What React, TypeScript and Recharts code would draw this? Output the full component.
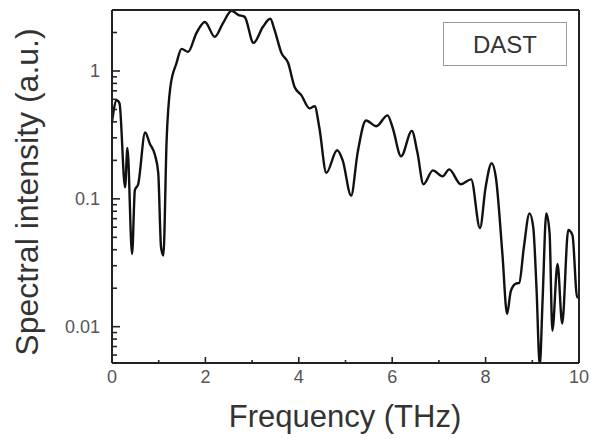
import React from 'react';
import { LineChart, Line, XAxis, YAxis, Legend } from 'recharts';

const freq = [0, 0.1, 0.16, 0.28, 0.33, 0.43, 0.49, 0.56, 0.71, 0.81, 0.92, 0.99, 1.05, 1.1, 1.17, 1.25, 1.38, 1.49, 1.63, 1.81, 1.99, 2.2, 2.38, 2.56, 2.7, 2.84, 3.03, 3.23, 3.39, 3.48, 3.63, 3.77, 3.91, 4.05, 4.23, 4.34, 4.44, 4.59, 4.82, 4.94, 5.12, 5.26, 5.44, 5.66, 5.9, 6.01, 6.19, 6.42, 6.54, 6.67, 6.87, 7.08, 7.22, 7.47, 7.69, 7.88, 8.0, 8.13, 8.22, 8.36, 8.46, 8.54, 8.65, 8.72, 8.82, 8.94, 9.02, 9.09, 9.16, 9.22, 9.3, 9.37, 9.43, 9.54, 9.64, 9.77, 9.86, 9.96, 10];
const intensity = [0.4, 0.59, 0.56, 0.123, 0.25, 0.037, 0.117, 0.13, 0.33, 0.27, 0.22, 0.16, 0.042, 0.036, 0.29, 0.75, 1.15, 1.49, 1.41, 1.99, 2.42, 1.85, 2.38, 2.96, 2.75, 2.65, 1.66, 2.21, 2.56, 2.1, 1.38, 1.16, 0.75, 0.65, 0.51, 0.53, 0.36, 0.16, 0.24, 0.2, 0.106, 0.23, 0.41, 0.37, 0.45, 0.36, 0.215, 0.34, 0.23, 0.13, 0.167, 0.15, 0.17, 0.13, 0.142, 0.059, 0.123, 0.19, 0.147, 0.037, 0.0126, 0.019, 0.0217, 0.022, 0.042, 0.077, 0.06, 0.02, 0.005, 0.016, 0.077, 0.054, 0.0093, 0.031, 0.0106, 0.057, 0.052, 0.017, 0.017];

const xTicks = [0, 1, 2, 3, 4, 5, 6, 7, 8, 9, 10];
const xLabeled = [0, 2, 4, 6, 8, 10];
const yTicks = [0.006, 0.007, 0.008, 0.009, 0.01, 0.02, 0.03, 0.04, 0.05, 0.06, 0.07, 0.08, 0.09, 0.1, 0.2, 0.3, 0.4, 0.5, 0.6, 0.7, 0.8, 0.9, 1, 2];
const yLabeled = [0.01, 0.1, 1];
const seriesName = 'DAST';

const data = freq.map((f, i) => ({ f, v: intensity[i] }));

const FONT = '"Liberation Sans", Arial, Helvetica, sans-serif';

const XTick = (props: any) => {
  const { x, y, payload } = props;
  const major = xLabeled.includes(payload.value);
  return (
    <g>
      <line x1={x} x2={x} y1={y} y2={y - (major ? 6 : 3)} stroke="#222" strokeWidth={1.6} />
      {major && (
        <text x={x} y={y + 20} textAnchor="middle" fontSize={18} fill="#555" fontFamily={FONT}>
          {payload.value}
        </text>
      )}
    </g>
  );
};

const YTick = (props: any) => {
  const { x, y, payload } = props;
  const major = yLabeled.some((m) => Math.abs(m - payload.value) < 1e-9);
  return (
    <g>
      <line x1={x} x2={x + (major ? 8 : 5)} y1={y} y2={y} stroke="#222" strokeWidth={1.6} />
      {major && (
        <text x={x - 12} y={y + 6} textAnchor="end" fontSize={18} fill="#555" fontFamily={FONT}>
          {payload.value}
        </text>
      )}
    </g>
  );
};

const LegendBox = () => (
  <div
    style={{
      boxSizing: 'border-box',
      width: 124,
      height: 44,
      border: '1px solid #9a9a9a',
      display: 'flex',
      alignItems: 'center',
      justifyContent: 'center',
      fontFamily: FONT,
      fontSize: 24,
      color: '#333',
      paddingTop: 2,
    }}
  >
    {seriesName}
  </div>
);

export default function App() {
  return (
    <div style={{ position: 'absolute', left: 0, top: 0, width: 591, height: 439 }}>
      <LineChart
        width={591}
        height={439}
        data={data}
        margin={{ top: 9, right: 11, bottom: 36, left: 52 }}
        style={{ fontFamily: FONT }}
      >
        <XAxis
          dataKey="f"
          type="number"
          domain={[0, 10]}
          ticks={xTicks}
          interval={0}
          tick={<XTick />}
          tickSize={0}
          tickMargin={0}
          tickLine={false}
          axisLine={{ stroke: '#222', strokeWidth: 2 }}
          height={40}
          label={{
            content: () => (
              <text x={345} y={427} textAnchor="middle" fontSize={31} fill="#333" fontFamily={FONT}>
                Frequency (THz)
              </text>
            ),
          }}
        />
        <XAxis
          xAxisId="t"
          orientation="top"
          dataKey="f"
          type="number"
          domain={[0, 10]}
          tick={false}
          tickLine={false}
          height={1}
          axisLine={{ stroke: '#222', strokeWidth: 2 }}
        />
        <YAxis
          type="number"
          scale="log"
          domain={[0.0052, 3]}
          allowDataOverflow
          ticks={yTicks}
          interval={0}
          tick={<YTick />}
          tickSize={0}
          tickMargin={0}
          tickLine={false}
          width={60}
          axisLine={{ stroke: '#222', strokeWidth: 2 }}
          label={{
            content: () => (
              <text
                x={0}
                y={0}
                transform="translate(38,192) rotate(-90)"
                textAnchor="middle"
                fontSize={32}
                fill="#333"
                fontFamily={FONT}
              >
                Spectral intensity (a.u.)
              </text>
            ),
          }}
        />
        <YAxis
          yAxisId="r"
          orientation="right"
          type="number"
          domain={[0, 1]}
          tick={false}
          tickLine={false}
          width={1}
          axisLine={{ stroke: '#222', strokeWidth: 2 }}
        />
        <Legend
          layout="vertical"
          align="center"
          verticalAlign="middle"
          content={<LegendBox />}
          wrapperStyle={{ position: 'absolute', left: 443, top: 22, width: 124, height: 44 }}
        />
        <Line
          type="monotone"
          dataKey="v"
          name={seriesName}
          stroke="#111"
          strokeWidth={2.4}
          dot={false}
          isAnimationActive={false}
        />
      </LineChart>
    </div>
  );
}
